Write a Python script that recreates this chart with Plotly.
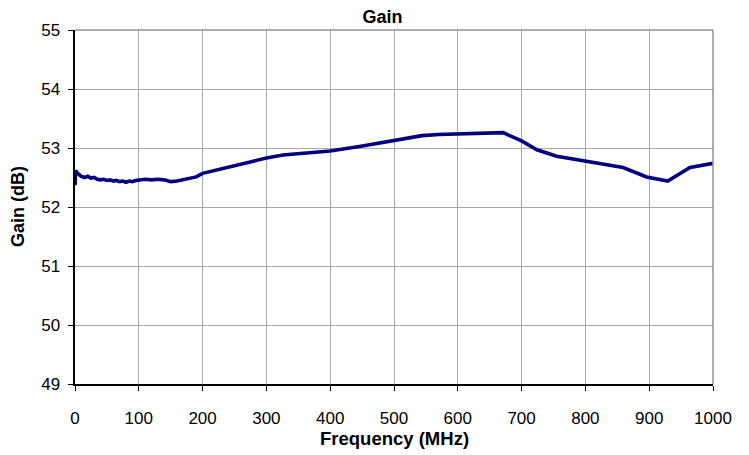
import plotly.graph_objects as go

freq = [0, 1, 3, 6, 10, 15, 20, 25, 30, 35, 40, 45, 50, 55, 60, 65, 70, 75, 80, 85, 90, 95, 100,
        110, 120, 125, 130, 140, 150, 160, 170, 180, 190, 200, 215, 230, 260, 290, 300, 326,
        375, 400, 448, 480, 500, 544, 570, 602, 640, 671, 700, 724, 755, 802, 859, 896, 929,
        964, 1000]
gain = [52.37, 52.62, 52.58, 52.55, 52.52, 52.50, 52.52, 52.49, 52.50, 52.47, 52.46, 52.47, 52.45,
        52.46, 52.44, 52.45, 52.43, 52.44, 52.42, 52.44, 52.43, 52.45, 52.46,
        52.47, 52.46, 52.47, 52.47, 52.46, 52.43, 52.44, 52.46, 52.48, 52.51, 52.57, 52.61,
        52.64, 52.72, 52.80, 52.83, 52.88, 52.92, 52.95, 53.03, 53.09, 53.14, 53.21, 53.23,
        53.24, 53.24, 53.26, 53.12, 52.97, 52.86, 52.77, 52.67, 52.51, 52.44, 52.67, 52.74]

x_ticks = [0, 100, 200, 300, 400, 500, 600, 700, 800, 900, 1000]
y_ticks = [49, 50, 51, 52, 53, 54, 55]

# page body has an 8px margin, so the figure origin is at (8, 8)
W, H = 749, 455
L, T = 67, 22
PW, PH = 638, 354
R = W - L - PW
B = H - T - PH

fig = go.Figure()
fig.add_trace(go.Scatter(x=freq, y=gain, mode="lines",
                         line=dict(color="#000080", width=3.6), showlegend=False))

font = "Liberation Sans, Arial, sans-serif"
fig.update_layout(
    width=W, height=H,
    margin=dict(l=L, r=R, t=T, b=B),
    paper_bgcolor="white", plot_bgcolor="white",
    font=dict(family=font, color="black", size=17),
    title=dict(text="<b>Gain</b>", x=0.5, xref="container", xanchor="center",
               y=1 - 2 / H, yref="container", yanchor="top", pad=dict(t=0, b=0),
               font=dict(size=18, family=font)),
)
fig.update_xaxes(
    range=[0, 1000], tickvals=x_ticks, ticktext=[str(v) for v in x_ticks],
    showgrid=True, gridcolor="#a8a8a8", gridwidth=1,
    showline=True, linecolor="black", linewidth=1.5, mirror=False,
    ticks="outside", ticklen=5, tickcolor="black", tickfont=dict(size=17),
    ticklabelstandoff=13,
    zeroline=False, automargin=False,
)
fig.update_yaxes(
    range=[49, 55], tickvals=y_ticks, ticktext=[str(v) + "\u00a0" for v in y_ticks],
    showgrid=True, gridcolor="#a8a8a8", gridwidth=1,
    showline=True, linecolor="black", linewidth=1.5, mirror=False,
    ticks="outside", ticklen=5, tickcolor="black", tickfont=dict(size=17),
    zeroline=False, automargin=False,
)
fig.add_annotation(text="<b>Frequency (MHz)</b>", xref="paper", yref="paper",
                   x=0.5, y=-(430 - T - PH) / PH, xanchor="center", yanchor="middle",
                   showarrow=False, font=dict(size=18.5, family=font))
fig.add_annotation(text="<b>Gain (dB)</b>", xref="paper", yref="paper",
                   x=-(L - 10) / PW, y=0.5, xanchor="center", yanchor="middle",
                   textangle=-90, showarrow=False, font=dict(size=18, family=font))
# gray frame on top and right
fig.add_shape(type="line", xref="paper", yref="paper", x0=0, x1=1, y0=1, y1=1,
              line=dict(color="#909090", width=1.5))
fig.add_shape(type="line", xref="paper", yref="paper", x0=1, x1=1, y0=0, y1=1,
              line=dict(color="#909090", width=1.5))

fig.write_html("out.html")
